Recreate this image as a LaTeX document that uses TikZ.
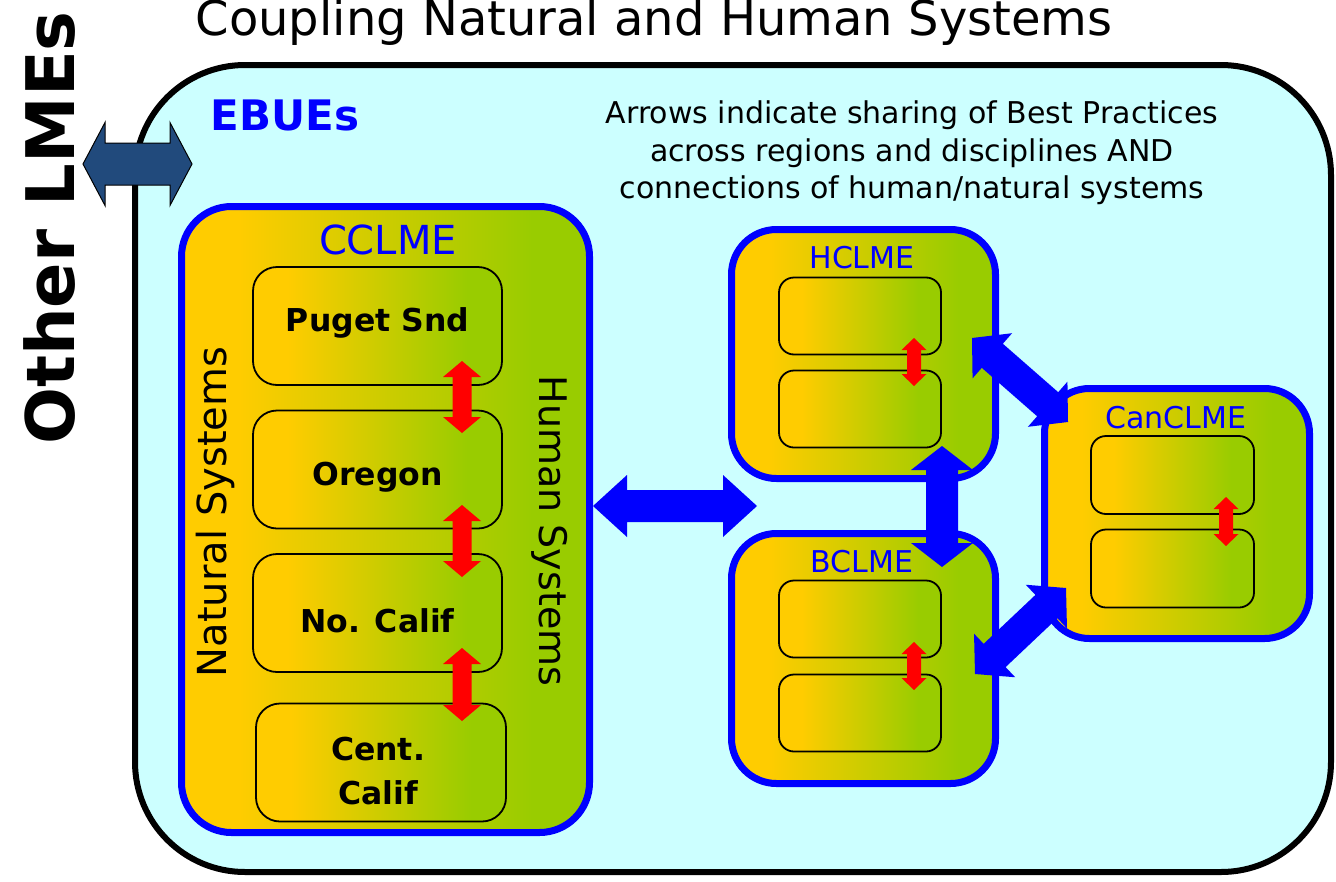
\documentclass[tikz,border=0pt]{standalone}
\usepackage{fontspec}
\setmainfont{DejaVu Sans}
\usetikzlibrary{calc}
\definecolor{myor}{RGB}{255,204,0}
\definecolor{mygr}{RGB}{153,204,0}
\definecolor{bgcyan}{RGB}{204,255,255}
\definecolor{lmeblue}{RGB}{33,74,124}
\pgfdeclarehorizontalshading{og}{100bp}{color(0bp)=(myor); color(32bp)=(myor); color(68bp)=(mygr); color(100bp)=(mygr)}
% #1 start, #2 end, #3 shaft half width, #4 head half width, #5 head length, #6 style
\newcommand\blockarrow[6]{%
\path[#6] (#1) -- ($(#1)!#5!(#2)!#4!90:(#2)$) -- ($(#1)!#5!(#2)!#3!90:(#2)$)
 -- ($(#2)!#5!(#1)!#3!-90:(#1)$) -- ($(#2)!#5!(#1)!#4!-90:(#1)$) -- (#2)
 -- ($(#2)!#5!(#1)!#4!90:(#1)$) -- ($(#2)!#5!(#1)!#3!90:(#1)$)
 -- ($(#1)!#5!(#2)!#3!-90:(#2)$) -- ($(#1)!#5!(#2)!#4!-90:(#2)$) -- cycle;}
\begin{document}
\begin{tikzpicture}[x=1pt,y=-1pt,
  ebue/.style={draw=black,line width=6pt,fill=bgcyan,rounded corners=110pt,inner sep=0pt},
  region/.style={draw=blue,line width=7pt,rounded corners=50pt,shade,shading=og,inner sep=0pt},
  sub/.style={draw=black,line width=1.8pt,rounded corners=24pt,shade,shading=og,inner sep=0pt},
  subsmall/.style={draw=black,line width=1.8pt,rounded corners=15pt,shade,shading=og,inner sep=0pt},
  regtitle/.style={text=blue,font=\fontsize{30}{36}\selectfont,inner sep=0pt},
  sublabel/.style={font=\fontsize{31.5}{44}\selectfont\bfseries,align=center,inner sep=0pt},
  redarrow/.style={fill=red},
  bluearrow/.style={fill=blue},
  lmearrow/.style={fill=lmeblue,draw=black,line width=1pt,line join=miter}
]
\useasboundingbox (0,0) rectangle (1336,881);
\fill[white] (0,0) rectangle (1336,881);

% title
\node[font=\fontsize{48}{56}\selectfont,inner sep=0pt] (title) at (654,22) {Coupling Natural and Human Systems};

% outer EBUE box
\node[ebue,minimum width=1196pt,minimum height=807pt] (ebue) at (733,468.5) {};
\node[text=blue,font=\fontsize{42}{50}\selectfont\bfseries,inner sep=0pt] (ebuelab) at (285,115) {EBUEs};
\node[font=\fontsize{30}{37.5}\selectfont,align=center,inner sep=0pt] (note) at (912,153)
  {Arrows indicate sharing of Best Practices\\across regions and disciplines AND\\connections of human/natural systems};

\node[rotate=90,font=\fontsize{67}{72}\selectfont\bfseries,inner sep=0pt] (other) at (50,228) {Other LMEs};

% CCLME
\node[region,minimum width=408pt,minimum height=626pt] (cclme) at (385.5,519.5) {};
\node[regtitle,font=\fontsize{40}{46}\selectfont] (cclmelab) at (388,240) {CCLME};
\node[sub,minimum width=249pt,minimum height=118pt] (puget) at (377.5,326) {};
\node[sublabel] at (377.5,323) {Puget Snd};
\node[sub,minimum width=249pt,minimum height=118pt] (oregon) at (377.5,469.5) {};
\node[sublabel] at (377.5,477) {Oregon};
\node[sub,minimum width=249pt,minimum height=118pt] (nocal) at (377.5,613) {};
\node[sublabel] at (377.5,621) {No. Calif};
\node[sub,minimum width=250pt,minimum height=118pt] (cent) at (381,762.5) {};
\node[sublabel] at (378,771) {Cent.\\Calif};
\node[rotate=90,font=\fontsize{40}{46}\selectfont,inner sep=0pt] (nat) at (215,512) {Natural Systems};
\node[rotate=-90,font=\fontsize{38}{44}\selectfont,inner sep=0pt] (hum) at (550,531) {Human Systems};

% HCLME
\node[region,rounded corners=45pt,minimum width=264pt,minimum height=249pt] (hclme) at (863.5,354) {};
\node[regtitle] (hclmelab) at (862,258) {HCLME};
\node[subsmall,minimum width=162pt,minimum height=77pt] (h1) at (860,316) {};
\node[subsmall,minimum width=162pt,minimum height=77pt] (h2) at (860,409) {};

% BCLME
\node[region,rounded corners=45pt,minimum width=264pt,minimum height=250pt] (bclme) at (863.5,658.5) {};
\node[regtitle] (bclmelab) at (862,562) {BCLME};
\node[subsmall,minimum width=162pt,minimum height=77pt] (b1) at (860,619) {};
\node[subsmall,minimum width=162pt,minimum height=77pt] (b2) at (860,713) {};

% CanCLME
\node[region,rounded corners=45pt,minimum width=265pt,minimum height=250pt] (canclme) at (1177,513.5) {};
\node[regtitle] (canlab) at (1176,418) {CanCLME};
\node[subsmall,minimum width=163pt,minimum height=78pt] (c1) at (1172.5,475) {};
\node[subsmall,minimum width=163pt,minimum height=78pt] (c2) at (1172.5,568.5) {};

% arrow end coordinates
\coordinate (r1a) at (462,361); \coordinate (r1b) at (462,433);
\coordinate (r2a) at (462,505); \coordinate (r2b) at (462,577);
\coordinate (r3a) at (462,648); \coordinate (r3b) at (462,721);
\coordinate (rha) at (914,338); \coordinate (rhb) at (914,386);
\coordinate (rba) at (914,642); \coordinate (rbb) at (914,690);
\coordinate (rca) at (1226,497); \coordinate (rcb) at (1226,546);
\coordinate (bha) at (593,506); \coordinate (bhb) at (757,506);
\coordinate (bva) at (942,446); \coordinate (bvb) at (942,567);
\coordinate (bd1a) at (972,338); \coordinate (bd1b) at (1068,422);
\coordinate (bd2a) at (975,674); \coordinate (bd2b) at (1066,588);
\coordinate (la) at (83,164); \coordinate (lb) at (192,164);

% red arrows
\blockarrow{r1a}{r1b}{9.5pt}{19pt}{16pt}{redarrow}
\blockarrow{r2a}{r2b}{9.5pt}{19pt}{16pt}{redarrow}
\blockarrow{r3a}{r3b}{9.5pt}{19pt}{16pt}{redarrow}
\blockarrow{rha}{rhb}{7pt}{12.5pt}{12pt}{redarrow}
\blockarrow{rba}{rbb}{7pt}{12.5pt}{12pt}{redarrow}
\blockarrow{rca}{rcb}{7pt}{12.5pt}{12pt}{redarrow}

% blue arrows
\blockarrow{bha}{bhb}{16pt}{31pt}{34pt}{bluearrow}
\blockarrow{bva}{bvb}{16pt}{31pt}{24pt}{bluearrow}
\blockarrow{bd1a}{bd1b}{16pt}{30pt}{27pt}{bluearrow}
\blockarrow{bd2a}{bd2b}{16pt}{30pt}{27pt}{bluearrow}

% other LMEs arrow
\blockarrow{la}{lb}{21pt}{41.5pt}{22pt}{lmearrow}
\end{tikzpicture}
\end{document}
